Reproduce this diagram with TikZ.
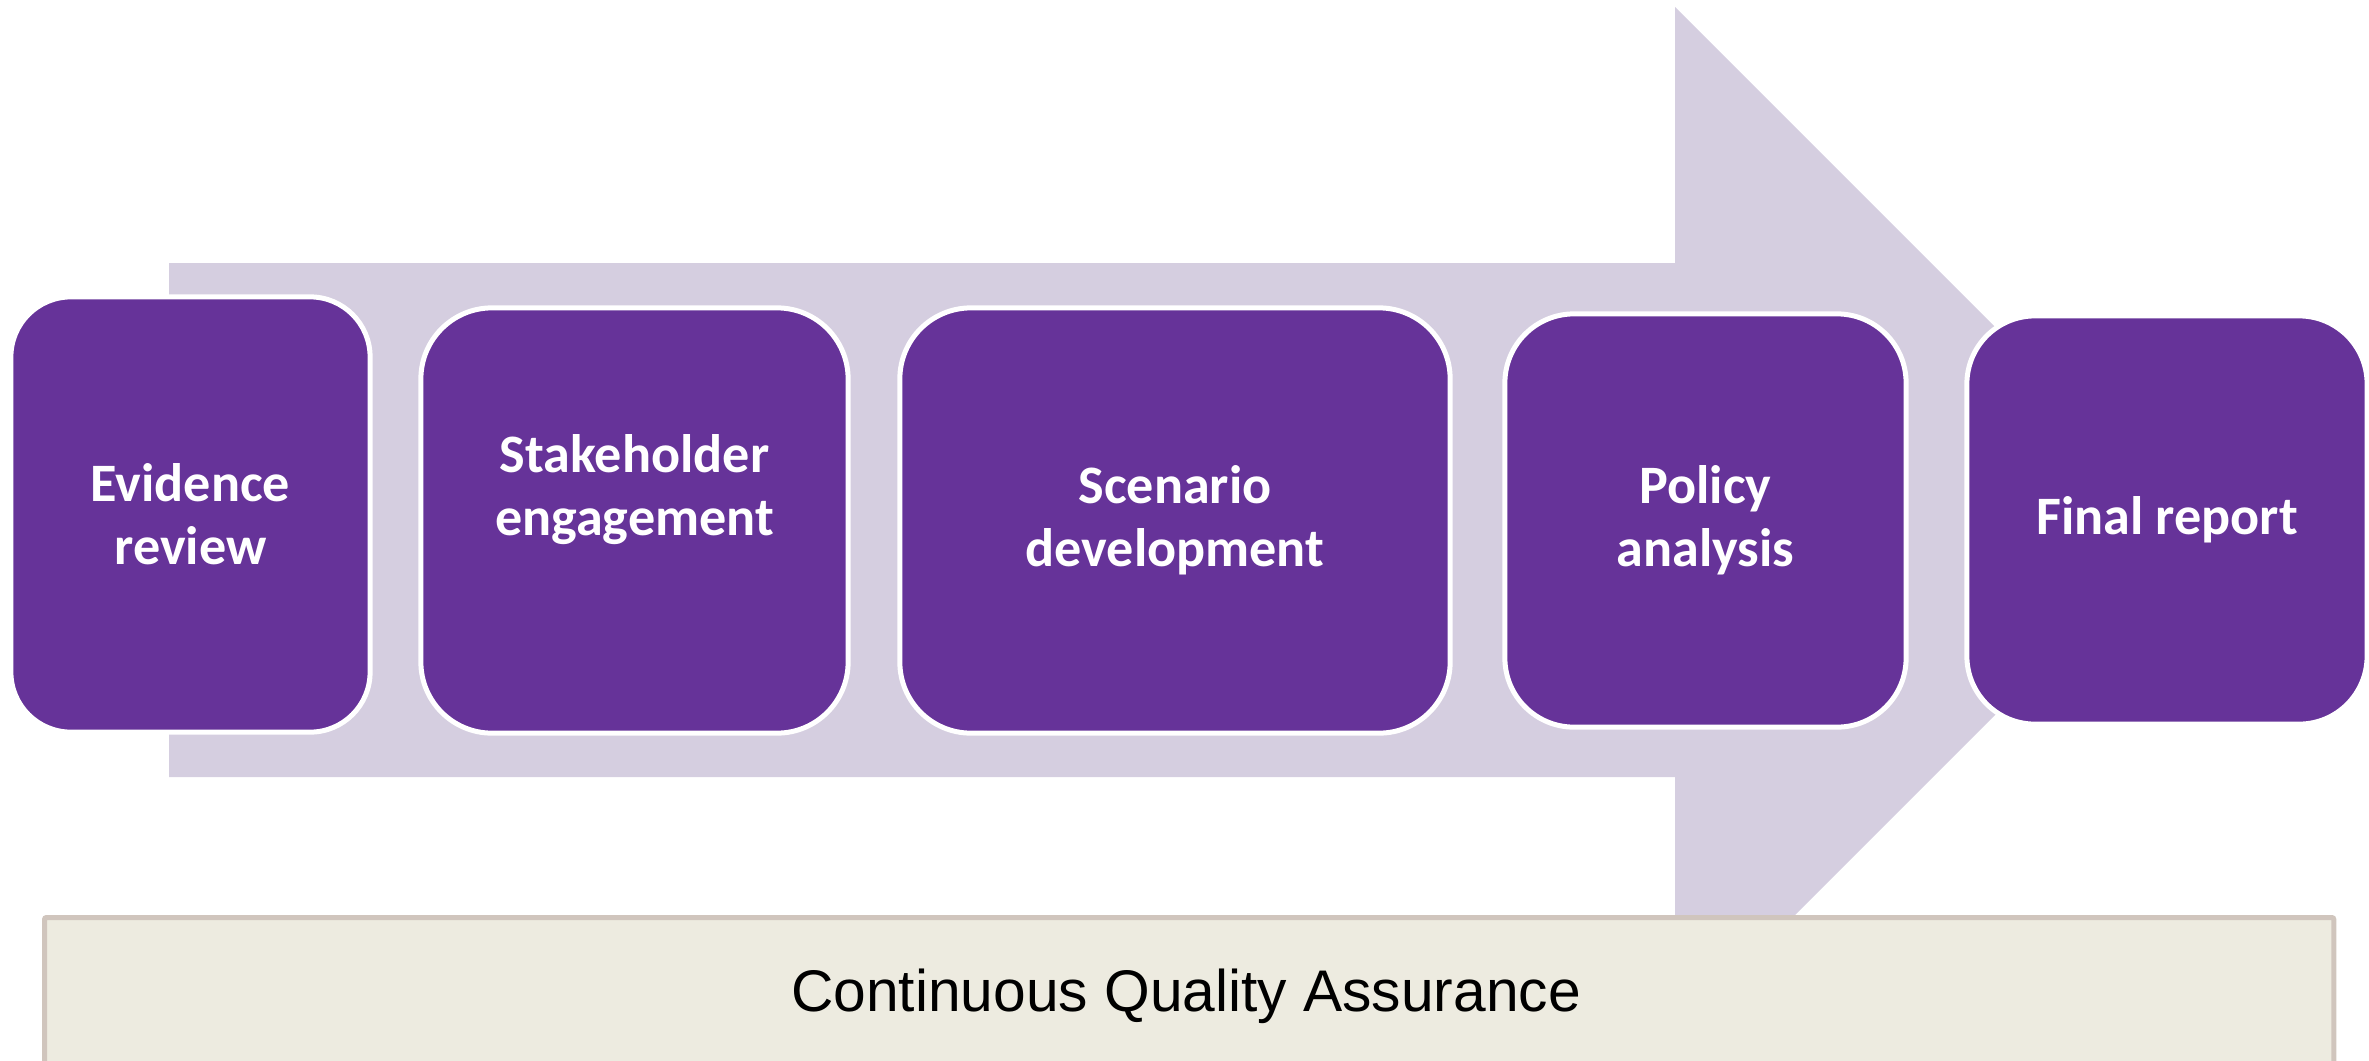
\documentclass[tikz,border=0pt]{standalone}
\usepackage{fontspec}
\setmainfont{Carlito}
\newfontfamily\qafont{Liberation Sans}
\definecolor{stagepurple}{RGB}{102,51,153}
\definecolor{arrowlav}{RGB}{213,206,224}
\definecolor{qafill}{RGB}{237,235,224}
\definecolor{qaline}{RGB}{208,197,189}
\begin{document}
\begin{tikzpicture}[x=0.01cm,y=-0.01cm,
  stagebox/.style={draw=white, line width=0.05cm, fill=stagepurple, text=white,
    font=\bfseries\fontsize{15.4}{17.9}\selectfont, align=center, inner sep=0pt},
  stagetext/.style={text=white, font=\bfseries\fontsize{15.4}{17.9}\selectfont, align=center, inner sep=0pt},
  qabox/.style={draw=qaline, line width=0.05cm, fill=qafill, inner sep=0pt, rounded corners=0.02cm},
  qatext/.style={font=\qafont\fontsize{16.7}{20}\selectfont, text=black, inner sep=0pt}]
\useasboundingbox (0,0) rectangle (2369,1060);
\clip (0,0) rectangle (2369,1060);
% big background arrow
\fill[arrowlav] (169,263) -- (1675,263) -- (1675,7) -- (2189,521) -- (1675,1035) -- (1675,777) -- (169,777) -- cycle;
% stages
\node[stagebox, minimum width=3.59cm, minimum height=4.35cm, rounded corners=0.6cm] (s1) at (190.5,514.5) {Evidence\\review};
\node[stagebox, minimum width=4.27cm, minimum height=4.25cm, rounded corners=0.71cm] (s2) at (634.5,520.5) {};
\node[stagetext] (s2t) at (634.5,490) {Stakeholder\\engagement};
\node[stagebox, minimum width=5.50cm, minimum height=4.25cm, rounded corners=0.71cm] (s3) at (1175,520.5) {Scenario\\development};
\node[stagebox, minimum width=4.01cm, minimum height=4.13cm, rounded corners=0.69cm] (s4) at (1705.5,520.5) {Policy\\analysis};
\node[stagebox, minimum width=4.00cm, minimum height=4.08cm, rounded corners=0.68cm] (s5) at (2167,520) {Final report};
% quality assurance bar
\node[qabox, anchor=north west, minimum width=22.88cm, minimum height=2.0cm] (qa) at (42,915) {};
\node[qatext, anchor=base] (qat) at (1186,1011) {Continuous Quality Assurance};
\end{tikzpicture}
\end{document}
